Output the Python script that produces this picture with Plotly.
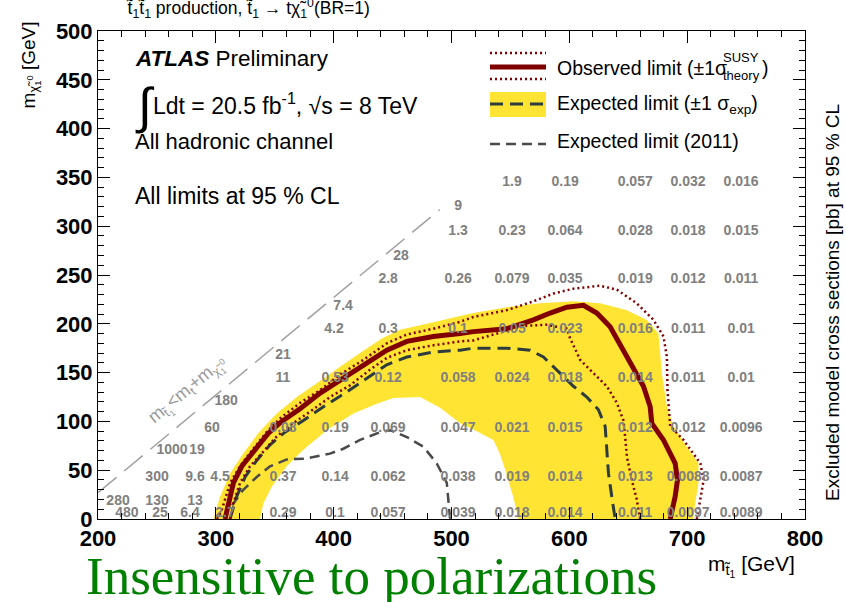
import plotly.graph_objects as go

# ---------------- data ----------------
# observed limit
obs_x = [307.8, 310.6, 314.9, 322.0, 333.3, 344.6, 355.9, 371.5, 388.5, 405.4, 425.2, 445.1, 462.1, 484.6,
         507.3, 518.6, 546.9, 569.5, 583.7, 597.9, 612.0, 623.3, 634.6, 644.6, 653.0, 662.9, 668.6, 670.0,
         679.9, 689.8, 691.8, 689.8, 685.6]
obs_y = [0, 16, 37, 54, 71, 88, 100, 113, 129, 142, 158, 173, 182, 187, 190, 192, 195, 204, 211, 217, 219,
         211, 197, 176, 156, 136, 115, 98, 81, 57, 40, 23, 0]
# observed +1 sigma theory
thu_x = [301.0, 305.0, 312.1, 320.5, 331.8, 343.1, 354.5, 371.5, 388.5, 405.4, 425.2, 445.1, 462.1, 484.6,
         507.3, 518.6, 546.9, 569.5, 586.5, 603.5, 626.1, 640.3, 657.2, 671.4, 679.9, 682.8, 683.3, 685.6,
         696.9, 711.2, 714.0, 711.2, 708.2]
thu_y = [0, 9, 37, 54, 72, 89, 103, 119, 132, 148, 163, 180, 189, 195, 202, 207, 214, 223, 231, 236, 239,
         235, 221, 204, 187, 166, 132, 95, 81, 57, 40, 20, 0]
# observed -1 sigma theory
thl_x = [312.1, 314.9, 320.5, 329.0, 338.9, 350.3, 363.0, 380.0, 396.9, 413.9, 430.9, 445.1, 462.1, 484.6,
         507.3, 518.6, 546.9, 563.9, 580.8, 597.8, 600.7, 609.2, 623.3, 631.8, 640.3, 645.9, 647.4, 648.8,
         653.0, 657.2, 660.1]
thl_y = [0, 16, 37, 54, 67, 83, 96, 110, 125, 137, 153, 165, 173, 178, 182, 183, 193, 198, 199, 195, 185,
         163, 146, 136, 119, 101, 84, 64, 40, 20, 0]
# expected limit
exp_x = [312.0, 317.7, 324.8, 334.7, 346.0, 358.7, 374.3, 391.3, 411.0, 430.9, 445.0, 462.1, 484.6, 507.3,
         518.6, 546.9, 566.7, 578.0, 589.4, 603.5, 614.8, 624.7, 630.4, 631.8, 633.2, 636.0, 638.9]
exp_y = [0, 23, 43, 60, 76, 89, 101, 115, 130, 146, 158, 166, 171, 173, 175, 175, 173, 166, 153, 136, 125,
         112, 95, 74, 47, 23, 0]
# expected +-1 sigma band: outer edge and inner edge
band_out_x = [297.9, 303.6, 312.1, 323.3, 336.1, 351.7, 368.7, 385.7, 405.4, 422.4, 440.8, 456.4, 479.0,
              507.3, 518.6, 546.9, 575.2, 603.5, 626.1, 648.8, 665.8, 675.6, 677.1, 678.5, 682.8, 688.4,
              699.7, 709.6, 709.6, 706.8, 705.3]
band_out_y = [0, 23, 47, 67, 88, 108, 125, 139, 156, 170, 185, 194, 200, 208, 211, 217, 221, 223, 221, 214,
              204, 190, 170, 149, 115, 95, 74, 57, 37, 16, 0]
band_in_x = [337.5, 340.3, 347.4, 360.1, 374.3, 394.1, 416.7, 436.6, 450.7, 473.3, 490.3, 507.3, 524.3,
             535.6, 541.3, 547.0, 552.5, 556.8]
band_in_y = [0, 16, 33, 54, 71, 91, 108, 118, 124, 125, 114, 98, 88, 81, 66, 45, 22, 0]
# expected limit 2011
e11_x = [313.8, 323.3, 334.7, 346.0, 360.2, 377.1, 396.9, 408.2, 422.4, 439.4, 447.9, 462.1, 476.2, 487.5,
         496.0, 497.4, 498.8]
e11_y = [14, 30, 43, 54, 61, 62, 67, 72, 81, 89, 91, 84, 74, 57, 37, 16, 0]
# kinematic boundary m_stop = m_top + m_LSP
kin_x = [200, 490]
kin_y = [27, 317]

# excluded cross sections [pb]
C = [224.6, 252.6, 278.1, 307.8, 357.0, 401.2, 446.2, 505.6, 551.4, 596.4, 655.9, 700.8, 745.8]
xs_x = ([551.4, 596.4, 655.9, 700.8, 745.8] + [505.6] + [505.6, 551.4, 596.4, 655.9, 700.8, 745.8] +
        [457.2] + [446.2, 505.6, 551.4, 596.4, 655.9, 700.8, 745.8] + [408.0] +
        [400.3, 446.2, 505.6, 551.4, 596.4, 655.9, 700.8, 745.8] + [357.0] +
        [357.0, 401.2, 446.2, 505.6, 551.4, 596.4, 655.9, 700.8, 745.8] + [308.7] +
        [296.8, 357.0, 401.2, 446.2, 505.6, 551.4, 596.4, 655.9, 700.8, 745.8] + [262.8, 284.0] +
        [250.1, 282.3, 303.6, 357.0, 401.2, 446.2, 505.6, 551.4, 596.4, 655.9, 700.8, 745.8] +
        [217.0, 250.1, 282.3] + C)
xs_y = ([345] * 5 + [320] + [295] * 6 + [269] + [245] * 7 + [218] + [194] * 8 + [168] + [144] * 9 +
        [120] + [93] * 10 + [70] * 2 + [43] * 12 + [18] * 3 + [6] * 13)
xs_label = (["1.9", "0.19", "0.057", "0.032", "0.016"] + ["9"] +
            ["1.3", "0.23", "0.064", "0.028", "0.018", "0.015"] + ["28"] +
            ["2.8", "0.26", "0.079", "0.035", "0.019", "0.012", "0.011"] + ["7.4"] +
            ["4.2", "0.3", "0.1", "0.05", "0.023", "0.016", "0.011", "0.01"] + ["21"] +
            ["11", "0.53", "0.12", "0.058", "0.024", "0.018", "0.014", "0.011", "0.01"] + ["180"] +
            ["60", "0.08", "0.19", "0.069", "0.047", "0.021", "0.015", "0.012", "0.012", "0.0096"] +
            ["1000", "19"] +
            ["300", "9.6", "4.5", "0.37", "0.14", "0.062", "0.038", "0.019", "0.014", "0.013", "0.0088", "0.0087"] +
            ["280", "130", "13"] +
            ["480", "25", "6.4", "2.7", "0.29", "0.1", "0.057", "0.039", "0.018", "0.014", "0.011", "0.0097", "0.0089"])

# ---------------- styling ----------------
FONT = "Liberation Sans, Arial, Helvetica, sans-serif"
RED = "#800000"
YEL = "#ffe433"
EXPC = "#2d3c3c"
OLDC = "#4a4a4a"

L, R, T, B = 98, 41, 31, 83
W, H = 846, 602
PW, PH = W - L - R, H - T - B


def px(p):
    return (p - L) / PW


def py(p):
    return (H - B - p) / PH


fig = go.Figure()

fig.add_trace(go.Scatter(x=band_out_x + band_in_x[::-1], y=band_out_y + band_in_y[::-1],
                         fill="toself", fillcolor=YEL, mode="none", hoverinfo="skip"))
fig.add_trace(go.Scatter(x=kin_x, y=kin_y, mode="lines",
                         line=dict(color="#a0a0a0", width=1.5, dash="24px,10px")))
fig.add_trace(go.Scatter(x=e11_x, y=e11_y, mode="lines",
                         line=dict(color=OLDC, width=2.5, dash="10px,6px")))
fig.add_trace(go.Scatter(x=exp_x, y=exp_y, mode="lines",
                         line=dict(color=EXPC, width=3, dash="13px,7px")))
fig.add_trace(go.Scatter(x=thu_x, y=thu_y, mode="lines",
                         line=dict(color=RED, width=2.5, dash="2px,3px")))
fig.add_trace(go.Scatter(x=thl_x, y=thl_y, mode="lines",
                         line=dict(color=RED, width=2.5, dash="2px,3px")))
fig.add_trace(go.Scatter(x=obs_x, y=obs_y, mode="lines", line=dict(color=RED, width=5)))
fig.add_trace(go.Scatter(x=xs_x, y=xs_y, text=xs_label, mode="text", cliponaxis=False,
                         textfont=dict(family=FONT, size=14, color="#808080", weight="bold")))

axis_common = dict(ticks="inside", ticklen=12, tickwidth=1, tickcolor="black", showline=True,
                   linecolor="black", linewidth=1, mirror="ticks", showgrid=False, zeroline=False,
                   tickfont=dict(family=FONT, size=22, color="black", weight="bold"))
fig.update_xaxes(range=[200, 800], tick0=200, dtick=100,
                 minor=dict(ticks="inside", ticklen=6, dtick=20, tickcolor="black", showgrid=False),
                 **axis_common)
fig.update_yaxes(range=[0, 500], tick0=0, dtick=50,
                 minor=dict(ticks="inside", ticklen=6, dtick=10, tickcolor="black", showgrid=False),
                 **axis_common)

ann = []


def text(x, y, s, size, xanchor="left", yanchor="middle", angle=0, color="black", family=FONT, xref="paper", yref="paper"):
    ann.append(dict(x=x, y=y, xref=xref, yref=yref, text=s, showarrow=False, xanchor=xanchor,
                    yanchor=yanchor, textangle=angle, font=dict(family=family, size=size, color=color)))


text(px(248), py(9), "t\u0303<sub>1</sub>t\u0303<sub>1</sub> production, t\u0303<sub>1</sub> \u2192 t\u03c7\u0303<sub>1</sub><sup>0</sup>(BR=1)",
     17.5, xanchor="center")
text(px(133), py(59), "<b><i>ATLAS</i></b> Preliminary", 22.5)
text(px(133), py(106), "\u222b", 50)
text(px(151), py(104), "Ldt = 20.5 fb<sup>-1</sup>, \u221as = 8 TeV", 23)
text(px(133), py(142), "All hadronic channel", 22)
text(px(133), py(196), "All limits at 95 % CL", 23)

# legend text
text(px(555), py(68), "Observed limit (\u00b11\u03c3", 19.5)
text(px(721), py(58), "SUSY", 13)
text(px(721), py(76), "theory", 13)
text(px(760), py(68), ")", 19.5)
text(px(555), py(104), "Expected limit (\u00b11 \u03c3<sub>exp</sub>)", 19.5)
text(px(555), py(141), "Expected limit (2011)", 19.5)

# axis titles
text(px(30), py(20), "m<sub>\u03c7\u0303<sub>1</sub><sup>0</sup></sub> [GeV]", 19, xanchor="center", yanchor="top", angle=-90)
text(px(797), py(566), "m<sub>t\u0303<sub>1</sub></sub> [GeV]", 21, xanchor="right")
text(px(832), py(303), "Excluded model cross sections [pb] at 95 % CL", 19, xanchor="center", angle=-90)

# kinematic boundary label
text(276, 131, "m<sub>t\u0303<sub>1</sub></sub><m<sub>t</sub>+m<sub>\u03c7\u0303<sub>1</sub><sup>0</sup></sub>", 18,
     xanchor="center", angle=-39.6, color="#999999", xref="x", yref="y")

text(px(84), py(576), "Insensitive to polarizations", 53, color="#008000", family="Liberation Serif, Times New Roman, serif")

shapes = [
    dict(type="rect", xref="paper", yref="paper", x0=px(490), x1=px(546), y0=py(92), y1=py(117),
         fillcolor=YEL, line=dict(width=0)),
    dict(type="line", xref="paper", yref="paper", x0=px(490), x1=px(546), y0=py(104), y1=py(104),
         line=dict(color=EXPC, width=3, dash="13px,7px")),
    dict(type="line", xref="paper", yref="paper", x0=px(490), x1=px(546), y0=py(144), y1=py(144),
         line=dict(color=OLDC, width=2.5, dash="10px,6px")),
    dict(type="line", xref="paper", yref="paper", x0=px(490), x1=px(546), y0=py(67), y1=py(67),
         line=dict(color=RED, width=5)),
    dict(type="line", xref="paper", yref="paper", x0=px(490), x1=px(546), y0=py(53), y1=py(53),
         line=dict(color=RED, width=2.5, dash="2px,3px")),
    dict(type="line", xref="paper", yref="paper", x0=px(490), x1=px(546), y0=py(79), y1=py(79),
         line=dict(color=RED, width=2.5, dash="2px,3px")),
]

fig.update_layout(width=W, height=H, margin=dict(l=L, r=R, t=T, b=B), plot_bgcolor="white",
                  paper_bgcolor="white", showlegend=False, annotations=ann, shapes=shapes)

fig.write_html("out.html")
